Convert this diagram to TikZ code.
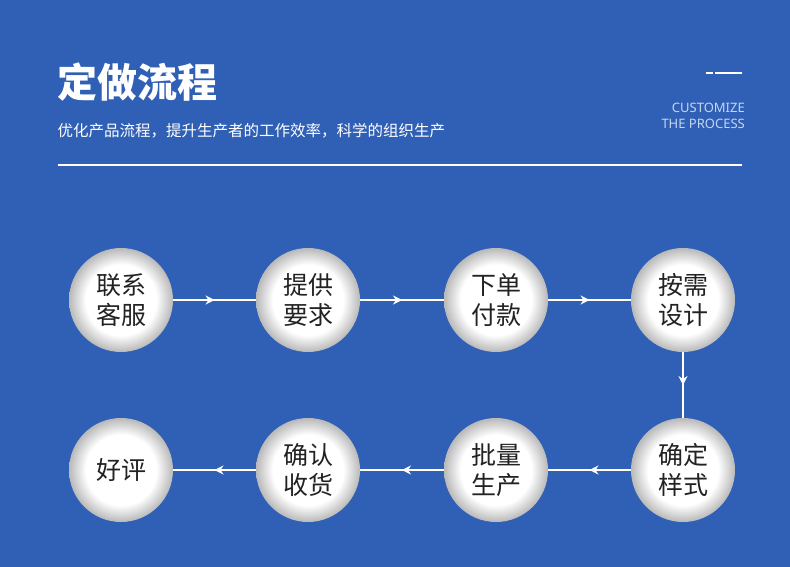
\documentclass[tikz,border=0pt]{standalone}
\usepackage{fontspec}
\setmainfont{Noto Sans}
\newfontfamily\cjk{Noto Sans CJK SC}
\usetikzlibrary{decorations.markings,arrows.meta}
\definecolor{bgblue}{HTML}{3060B6}
\definecolor{engtext}{HTML}{C5D5F0}
\definecolor{steptext}{HTML}{222222}
\pgfdeclareradialshading{stepball}{\pgfpoint{0bp}{0bp}}{%
  color(0bp)=(white); color(17bp)=(white); color(25bp)=(gray!55);
  color(50bp)=(gray!55)}
\tikzset{%
  % Specifications for style of nodes:
  stepball/.style = {circle, minimum size=104pt, inner sep=0pt,
                     shading=stepball, align=center,
                     font=\cjk\fontsize{25}{30}\selectfont, text=steptext},
  flow/.style = {draw=white, line width=1.1pt, decoration={markings,
                 mark=at position 0.5 with {\arrow{Stealth[length=9pt,width=9pt]}}},
                 postaction={decorate}},
}
\begin{document}
\begin{tikzpicture}[x=1pt, y=-1pt]
  \fill[bgblue] (0,0) rectangle (790,567);
  \useasboundingbox (0,0) rectangle (790,567);
  % Heading
  \node (title) [anchor=west, text=white, font=\cjk\bfseries\fontsize{40}{44}\selectfont]
        at (54,82) {定做流程};
  \node (subtitle) [anchor=west, text=white, font=\cjk\fontsize{15.5}{18}\selectfont]
        at (54,131) {优化产品流程，提升生产者的工作效率，科学的组织生产};
  \node (eng) [anchor=east, text=engtext, align=right, inner sep=0pt,
        font=\fontsize{13}{16}\selectfont] at (745,116) {CUSTOMIZE\\THE PROCESS};
  \draw[white, line width=2pt] (706,73) -- (713,73);
  \draw[white, line width=2pt] (715,73) -- (742,73);
  \draw[white, line width=1.5pt] (58,165) -- (742,165);
  % Specification of nodes (position, etc.)
  \node (contact) [stepball] at (121,300) {联系\\客服};
  \node (demand)  [stepball] at (308,300) {提供\\要求};
  \node (pay)     [stepball] at (496,300) {下单\\付款};
  \node (design)  [stepball] at (683,300) {按需\\设计};
  \node (confirm) [stepball] at (683,470) {确定\\样式};
  \node (batch)   [stepball] at (496,470) {批量\\生产};
  \node (receive) [stepball] at (308,470) {确认\\收货};
  \node (review)  [stepball] at (121,470) {好评};
  % Specification of lines between nodes
  \draw[flow] (contact) -- (demand);
  \draw[flow] (demand) -- (pay);
  \draw[flow] (pay) -- (design);
  \draw[flow] (design) -- (confirm);
  \draw[flow] (confirm) -- (batch);
  \draw[flow] (batch) -- (receive);
  \draw[flow] (receive) -- (review);
\end{tikzpicture}
\end{document}
